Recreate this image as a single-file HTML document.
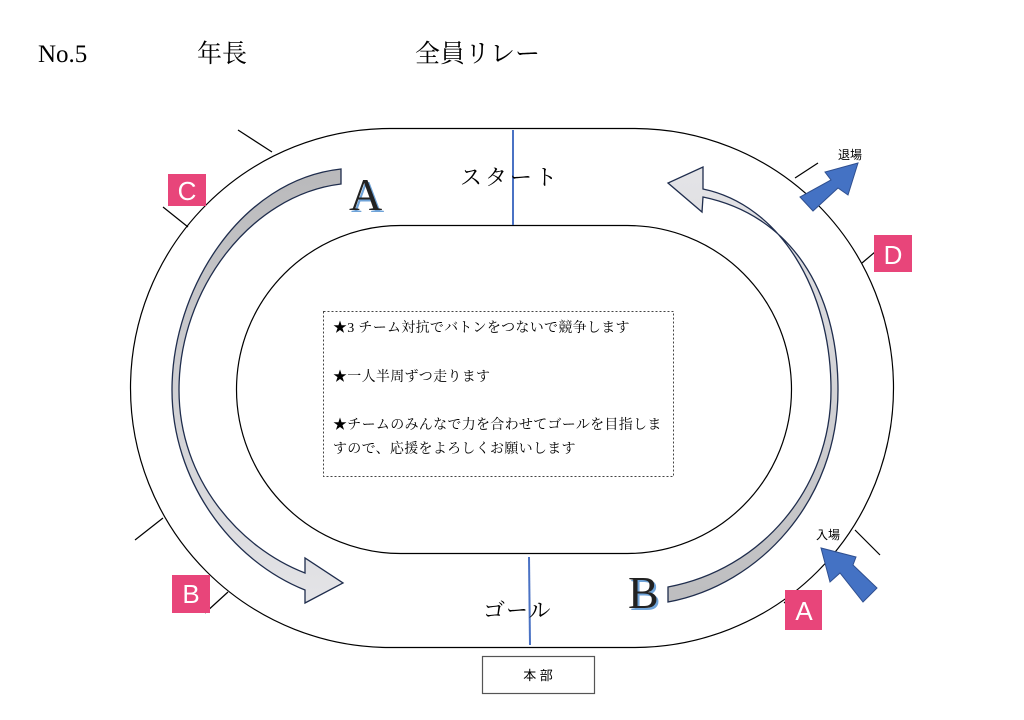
<!DOCTYPE html>
<html><head><meta charset="utf-8"><style>
body{margin:0;width:1024px;height:720px;background:#fff;overflow:hidden}
svg{display:block}
.s{font-family:"Liberation Serif","Noto Serif CJK SC",serif}
.p{font-family:"Liberation Sans","Noto Sans CJK JP",sans-serif}
</style></head><body>
<svg width="1024" height="720" viewBox="0 0 1024 720" xmlns="http://www.w3.org/2000/svg">
<defs>
<linearGradient id="g1" x1="0" y1="0" x2="0" y2="1"><stop offset="0" stop-color="#b9b9bb"/><stop offset="0.5" stop-color="#cfcfd2"/><stop offset="1" stop-color="#e4e4e7"/></linearGradient>
<linearGradient id="g2" x1="0" y1="1" x2="0" y2="0"><stop offset="0" stop-color="#bdbdbf"/><stop offset="0.5" stop-color="#d3d3d6"/><stop offset="1" stop-color="#e4e4e7"/></linearGradient>
</defs>
<text x="38" y="62" class="s" font-size="25">No.5</text>
<text x="197" y="62" class="s" font-size="25">年長</text>
<text x="415" y="62" class="s" font-size="25">全員リレー</text>

<rect x="130.5" y="128.5" width="763" height="519" rx="259.5" fill="none" stroke="#000" stroke-width="1.2"/>
<rect x="236.5" y="225.5" width="555" height="328" rx="164" fill="none" stroke="#000" stroke-width="1.2"/>

<line x1="513" y1="130" x2="513" y2="225" stroke="#4a72c4" stroke-width="2"/>
<line x1="529" y1="557" x2="530" y2="645" stroke="#4a72c4" stroke-width="2"/>

<g stroke="#000" stroke-width="1.2">
<line x1="238" y1="130" x2="272" y2="152"/>
<line x1="163" y1="207" x2="188" y2="227"/>
<line x1="135" y1="540" x2="163" y2="518"/>
<line x1="205" y1="613" x2="228" y2="592"/>
<line x1="795" y1="178" x2="818" y2="163"/>
<line x1="862" y1="263" x2="875" y2="252"/>
<line x1="855" y1="530" x2="880" y2="555"/>
<line x1="784" y1="602" x2="790" y2="607"/>
</g>

<path d="M341,169 C240,180 172,290 172,390 C172,480 230,560 305,590 L305,603 L343,583 L305,558 L305,573 C240,548 179,480 179,390 C179,290 250,195 341,184 Z" fill="url(#g1)" stroke="#1f2d4d" stroke-width="1.3"/>
<path d="M668,602 C760,585 838,500 838,390 C838,290 790,215 703,197 L702,212 L668,183 L703,167 L703,189 C780,205 831,290 831,390 C831,490 760,570 668,587 Z" fill="url(#g2)" stroke="#1f2d4d" stroke-width="1.3"/>

<polygon points="800,197 813,211 838,188 848,195 858,163 825,172 831,180" fill="#4472c4" stroke="#2f4f8f" stroke-width="1"/>
<polygon points="821,548 830,582 840,573 863,602 877,588 853,565 856,557" fill="#4472c4" stroke="#2f4f8f" stroke-width="1"/>

<text x="838" y="159" class="p" font-size="12">退場</text>
<text x="816" y="539" class="p" font-size="12">入場</text>

<g class="p" font-size="26" fill="#fff" text-anchor="middle">
<rect x="168" y="174" width="38" height="32" fill="#e8457a"/><text x="187" y="200">C</text>
<rect x="874" y="235" width="38" height="37" fill="#e8457a"/><text x="893" y="264">D</text>
<rect x="172" y="575" width="38" height="38" fill="#e8457a"/><text x="191" y="603">B</text>
<rect x="785" y="590" width="37" height="40" fill="#e8457a"/><text x="804" y="620">A</text>
</g>

<text x="351" y="212" class="s" font-size="46" fill="#6fa3d8">A</text>
<text x="349" y="210" class="s" font-size="46" fill="#222">A</text>
<text x="630" y="610" class="s" font-size="46" fill="#6fa3d8">B</text>
<text x="628" y="608" class="s" font-size="46" fill="#222">B</text>

<text x="460" y="185" class="s" font-size="22" letter-spacing="3">スタート</text>
<text x="483" y="618" class="s" font-size="22" letter-spacing="1">ゴール</text>

<rect x="323.5" y="311.5" width="350" height="165" fill="none" stroke="#444" stroke-width="1" stroke-dasharray="2,2"/>
<g class="s" font-size="14" letter-spacing="0.3">
<text x="333" y="332">★3 チーム対抗でバトンをつないで競争します</text>
<text x="333" y="381">★一人半周ずつ走ります</text>
<text x="333" y="429">★チームのみんなで力を合わせてゴールを目指しま</text>
<text x="333" y="453">すので、応援をよろしくお願いします</text>
</g>

<rect x="482.5" y="656.5" width="112" height="37" fill="#fff" stroke="#555" stroke-width="1.2"/>
<text x="538" y="680" class="p" font-size="13" text-anchor="middle">本 部</text>
</svg>
</body></html>
